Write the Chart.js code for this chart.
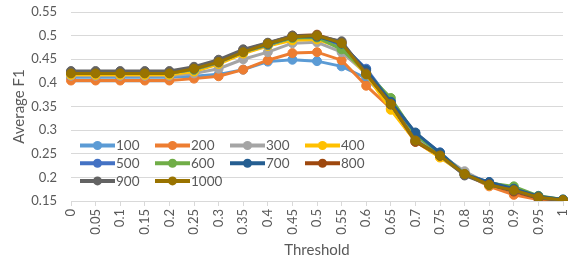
<!DOCTYPE html>
<html>
<head>
<meta charset="utf-8">
<script src="https://cdn.jsdelivr.net/npm/chart.js@4/dist/chart.umd.min.js"></script>
<style>
  html, body { margin: 0; padding: 0; background: #fff; }
  #wrap { position: relative; width: 574px; height: 261px; }
</style>
</head>
<body>
<div id="wrap"><canvas id="myChart" width="574" height="261"></canvas></div>
<script>
const thresholds = ['0', '0.05', '0.1', '0.15', '0.2', '0.25', '0.3', '0.35', '0.4', '0.45', '0.5',
    '0.55', '0.6', '0.65', '0.7', '0.75', '0.8', '0.85', '0.9', '0.95', '1'];

const seriesNames = ['100', '200', '300', '400', '500', '600', '700', '800', '900', '1000'];
const seriesColors = ['#5B9BD5', '#ED7D31', '#A5A5A5', '#FFC000', '#4472C4',
    '#70AD47', '#255E91', '#9E480E', '#636363', '#997300'];

const f1_100  = [0.412, 0.412, 0.412, 0.412, 0.412, 0.414, 0.418, 0.428, 0.445, 0.449, 0.446, 0.435, 0.410, 0.358, 0.290, 0.250, 0.210, 0.186, 0.172, 0.157, 0.152];
const f1_200  = [0.405, 0.405, 0.405, 0.405, 0.405, 0.409, 0.414, 0.428, 0.448, 0.463, 0.465, 0.448, 0.394, 0.346, 0.276, 0.243, 0.208, 0.181, 0.163, 0.153, 0.151];
const f1_300  = [0.415, 0.415, 0.415, 0.415, 0.415, 0.420, 0.430, 0.450, 0.465, 0.484, 0.486, 0.465, 0.420, 0.355, 0.282, 0.248, 0.213, 0.186, 0.175, 0.158, 0.152];
const f1_400  = [0.417, 0.417, 0.417, 0.417, 0.417, 0.424, 0.440, 0.462, 0.478, 0.490, 0.492, 0.474, 0.418, 0.343, 0.276, 0.242, 0.207, 0.183, 0.172, 0.157, 0.151];
const f1_500  = [0.421, 0.421, 0.421, 0.421, 0.421, 0.428, 0.443, 0.466, 0.480, 0.496, 0.497, 0.480, 0.430, 0.362, 0.293, 0.253, 0.207, 0.190, 0.177, 0.159, 0.153];
const f1_600  = [0.421, 0.421, 0.421, 0.421, 0.421, 0.428, 0.444, 0.465, 0.481, 0.495, 0.496, 0.471, 0.422, 0.368, 0.290, 0.251, 0.207, 0.188, 0.181, 0.161, 0.153];
const f1_700  = [0.422, 0.422, 0.422, 0.422, 0.422, 0.430, 0.445, 0.467, 0.482, 0.497, 0.498, 0.483, 0.427, 0.360, 0.295, 0.252, 0.206, 0.190, 0.176, 0.160, 0.153];
const f1_800  = [0.423, 0.423, 0.423, 0.423, 0.423, 0.432, 0.447, 0.469, 0.484, 0.500, 0.502, 0.486, 0.420, 0.355, 0.275, 0.246, 0.206, 0.185, 0.170, 0.156, 0.151];
const f1_900  = [0.425, 0.425, 0.425, 0.425, 0.425, 0.434, 0.449, 0.471, 0.485, 0.500, 0.500, 0.488, 0.420, 0.354, 0.278, 0.246, 0.204, 0.184, 0.172, 0.157, 0.151];
const f1_1000 = [0.420, 0.420, 0.420, 0.420, 0.420, 0.430, 0.444, 0.465, 0.483, 0.497, 0.500, 0.484, 0.418, 0.355, 0.278, 0.246, 0.207, 0.184, 0.173, 0.158, 0.152];

const seriesValues = [f1_100, f1_200, f1_300, f1_400, f1_500, f1_600, f1_700, f1_800, f1_900, f1_1000];

const FONT = 'Lato, "Open Sans", sans-serif';
const TEXT = '#595959';
const GRID = '#D9D9D9';

// legend sits inside the plot, lower left, 4 per row
const insideLegend = {
    id: 'insideLegend',
    afterDatasetsDraw(chart) {
        const ctx = chart.ctx;
        const area = chart.chartArea;
        const x0 = area.left + 9, y0 = 145.5, colW = 75, rowH = 17.7, lineLen = 35;
        ctx.save();
        ctx.font = '13.5px ' + FONT;
        ctx.textBaseline = 'middle';
        chart.data.datasets.forEach((ds, i) => {
            const x = x0 + (i % 4) * colW;
            const y = y0 + Math.floor(i / 4) * rowH;
            ctx.strokeStyle = ds.borderColor;
            ctx.lineWidth = 4;
            ctx.beginPath();
            ctx.moveTo(x, y);
            ctx.lineTo(x + lineLen, y);
            ctx.stroke();
            ctx.fillStyle = ds.borderColor;
            ctx.beginPath();
            ctx.arc(x + lineLen / 2, y, 4.5, 0, Math.PI * 2);
            ctx.fill();
            ctx.fillStyle = TEXT;
            ctx.fillText(ds.label, x + lineLen + 1, y + 0.5);
        });
        ctx.restore();
    }
};

const ctx = document.getElementById('myChart').getContext('2d');
const myChart = new Chart(ctx, {
    type: 'line',
    data: {
        labels: thresholds,
        datasets: seriesNames.map((name, i) => ({
            label: name,
            data: seriesValues[i],
            borderColor: seriesColors[i],
            backgroundColor: seriesColors[i],
            borderWidth: 3,
            pointRadius: 4.5,
            pointBorderWidth: 1,
            pointBorderColor: seriesColors[i],
            pointBackgroundColor: seriesColors[i],
            tension: 0,
            fill: false,
            order: seriesNames.length - i,
        })),
    },
    options: {
        responsive: false,
        animation: false,
        events: [],
        layout: { padding: { left: 0, right: 11, top: 12, bottom: 0 } },
        plugins: {
            legend: { display: false },
            tooltip: { enabled: false },
            title: { display: false },
        },
        scales: {
            x: {
                offset: false,
                grid: {
                    drawOnChartArea: false,
                    drawTicks: true,
                    tickLength: 5,
                    color: GRID,
                },
                border: { display: true, color: GRID, width: 1 },
                ticks: {
                    autoSkip: false,
                    maxRotation: 90,
                    minRotation: 90,
                    padding: 3,
                    color: TEXT,
                    font: { family: FONT, size: 13 },
                },
                title: {
                    display: true,
                    text: 'Threshold',
                    color: TEXT,
                    font: { family: FONT, size: 15 },
                    padding: { top: 0, bottom: 2 },
                },
                afterFit: scale => {
                    scale.height = 60;
                    scale.paddingLeft = 0;
                    scale.paddingRight = 0;
                },
            },
            y: {
                min: 0.15,
                max: 0.55,
                grid: { color: GRID, drawTicks: false, lineWidth: 1 },
                border: { display: false },
                ticks: {
                    stepSize: 0.05,
                    padding: 14,
                    color: TEXT,
                    font: { family: FONT, size: 13 },
                    callback: v => String(Math.round(v * 100) / 100),
                },
                title: {
                    display: true,
                    text: 'Average F1',
                    color: TEXT,
                    font: { family: FONT, size: 15 },
                    padding: { top: 10, bottom: 0 },
                },
                afterFit: scale => {
                    scale.width = 71;
                    scale.paddingTop = 0;
                    scale.paddingBottom = 0;
                },
            },
        },
    },
    plugins: [insideLegend],
});
</script>
</body>
</html>
